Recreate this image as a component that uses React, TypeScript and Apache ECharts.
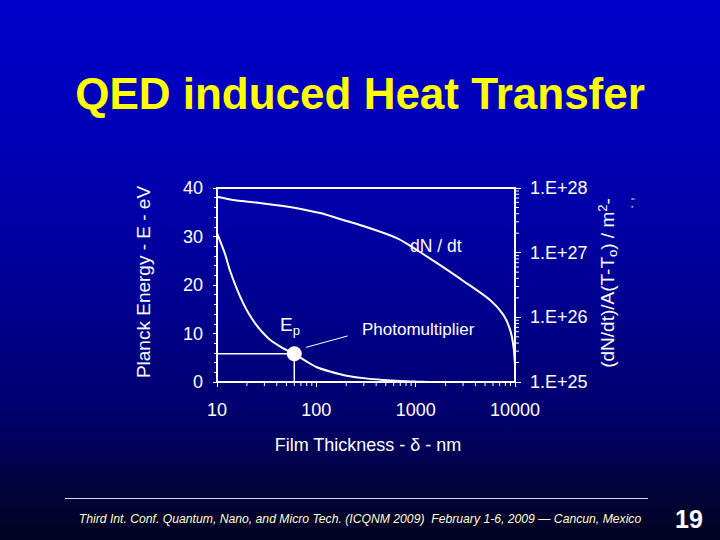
import React, { useEffect, useRef } from 'react';
import * as echarts from 'echarts';

const titleText = 'QED induced Heat Transfer';
const footerText = 'Third Int. Conf. Quantum, Nano, and Micro Tech. (ICQNM 2009)  February 1-6, 2009 \u2014 Cancun, Mexico';
const pageNumber = '19';

const xMinorTicks = [20, 30, 40, 50, 60, 70, 80, 90, 200, 300, 400, 500, 600, 700, 800, 900, 2000, 3000, 4000, 5000, 6000, 7000, 8000, 9000];
const rightMinorTicks = [2e25, 3e25, 4e25, 5e25, 6e25, 7e25, 8e25, 9e25, 2e26, 3e26, 4e26, 5e26, 6e26, 7e26, 8e26, 9e26, 2e27, 3e27, 4e27, 5e27, 6e27, 7e27, 8e27, 9e27];

// Planck energy Ep (eV) vs film thickness (nm)
const epThickness = [10, 12, 13.5, 16, 18.4, 21, 24.2, 28, 34.2, 45, 60, 80, 100, 140, 190, 300, 470, 700, 1000, 1400];
const epEnergy = [30.7, 26.5, 23, 19, 16.2, 14, 12.1, 10.5, 8.7, 7.1, 5.8, 4.2, 3.1, 2.1, 1.4, 0.8, 0.42, 0.2, 0.08, 0];

// dN/dt per area per K vs film thickness (nm)
const dndtThickness = [10, 15.8, 25, 50, 109, 173, 297, 646, 1026, 1762, 3020, 5610, 7640, 8930, 9640, 10000];
const dndtValue = [7.33e27, 6.41e27, 5.97e27, 5.18e27, 4.1e27, 3.31e27, 2.58e27, 1.68e27, 1.1e27, 6.4e26, 3.65e26, 1.85e26, 1.09e26, 6.4e25, 3.6e25, 1.83e25];

const epPoint = [60, 5.8];
const dropLineX = [10, 60, 60];
const dropLineY = [5.8, 5.8, 0];
const pointerX = [79, 207];
const pointerY = [7.15, 9.5];

const FONT = '"Liberation Sans", Arial, sans-serif';

export default function App() {
  const ref = useRef<HTMLDivElement>(null);

  useEffect(() => {
    if (!ref.current) return;
    const chart = echarts.init(ref.current, null, { renderer: 'svg' });

    const tickRender = (dir: 'down' | 'right') => (params: any, api: any) => {
      const p = api.coord([api.value(0), api.value(1)]);
      const shape = dir === 'down'
        ? { x1: p[0], y1: p[1], x2: p[0], y2: p[1] + 4 }
        : { x1: p[0], y1: p[1], x2: p[0] + 4, y2: p[1] };
      return { type: 'line', shape, style: { stroke: '#ffffff', lineWidth: 1 } };
    };

    const labelStyle = { color: '#ffffff', fontSize: 18, fontFamily: FONT };

    chart.setOption({
      animation: false,
      backgroundColor: {
        type: 'linear', x: 0, y: 0, x2: 0, y2: 1,
        colorStops: [
          { offset: 0, color: '#0000cc' },
          { offset: 0.3, color: '#0000b2' },
          { offset: 0.55, color: '#000092' },
          { offset: 0.78, color: '#00006a' },
          { offset: 0.9, color: '#03033e' },
          { offset: 1, color: '#020222' },
        ],
      },
      grid: {
        left: 217, right: 205, top: 188, bottom: 158,
        show: true, borderColor: '#ffffff', borderWidth: 2, backgroundColor: 'transparent',
      },
      xAxis: {
        type: 'log', logBase: 10, min: 10, max: 10000,
        axisLine: { show: true, lineStyle: { color: '#ffffff', width: 2 } },
        axisTick: { show: true, length: 5, lineStyle: { color: '#ffffff' } },
        splitLine: { show: false },
        axisLabel: { ...labelStyle, margin: 19, formatter: (v: number) => String(Math.round(v)) },
      },
      yAxis: [
        {
          type: 'value', min: 0, max: 40, interval: 10,
          axisLine: { show: true, lineStyle: { color: '#ffffff', width: 2 } },
          axisTick: { show: true, length: 4, lineStyle: { color: '#ffffff' } },
          minorTick: { show: true, splitNumber: 5, length: 3, lineStyle: { color: '#ffffff' } },
          splitLine: { show: false },
          axisLabel: { ...labelStyle, margin: 14 },
        },
        {
          type: 'log', logBase: 10, min: 1e25, max: 1e28, position: 'right',
          axisLine: { show: true, lineStyle: { color: '#ffffff', width: 2 } },
          axisTick: { show: true, length: 6, lineStyle: { color: '#ffffff' } },
          splitLine: { show: false },
          axisLabel: { ...labelStyle, margin: 15, formatter: (v: number) => '1.E+' + Math.round(Math.log10(v)) },
        },
      ],
      series: [
        {
          type: 'line', name: 'Ep', xAxisIndex: 0, yAxisIndex: 0,
          data: epThickness.map((x, i) => [x, epEnergy[i]]),
          smooth: 0.3, showSymbol: false, symbol: 'none',
          lineStyle: { color: '#ffffff', width: 2 },
        },
        {
          type: 'line', name: 'dN/dt', xAxisIndex: 0, yAxisIndex: 1,
          data: dndtThickness.map((x, i) => [x, dndtValue[i]]),
          smooth: 0.3, showSymbol: false, symbol: 'none',
          lineStyle: { color: '#ffffff', width: 2 },
        },
        {
          type: 'line', name: 'drop', xAxisIndex: 0, yAxisIndex: 0,
          data: dropLineX.map((x, i) => [x, dropLineY[i]]),
          showSymbol: false, symbol: 'none',
          lineStyle: { color: '#ffffff', width: 1.5 },
        },
        {
          type: 'line', name: 'pointer', xAxisIndex: 0, yAxisIndex: 0,
          data: pointerX.map((x, i) => [x, pointerY[i]]),
          showSymbol: false, symbol: 'none',
          lineStyle: { color: '#ffffff', width: 1 },
        },
        {
          type: 'scatter', name: 'point', xAxisIndex: 0, yAxisIndex: 0,
          data: [epPoint], symbolSize: 15,
          itemStyle: { color: '#ffffff', opacity: 1 },
        },
        {
          type: 'custom', xAxisIndex: 0, yAxisIndex: 0, clip: false,
          data: xMinorTicks.map((v) => [v, 0]),
          renderItem: tickRender('down'),
        },
        {
          type: 'custom', xAxisIndex: 0, yAxisIndex: 1, clip: false,
          data: rightMinorTicks.map((v) => [10000, v]),
          renderItem: tickRender('right'),
        },
      ],
      graphic: [
        {
          type: 'text', x: 360, y: 93,
          style: { text: titleText, fill: '#ffff00', font: `bold 44px ${FONT}`, align: 'center', verticalAlign: 'middle' },
        },
        {
          type: 'text', x: 143, y: 282, rotation: Math.PI / 2,
          style: { text: 'Planck Energy - E - eV', fill: '#ffffff', font: `19px ${FONT}`, align: 'center', verticalAlign: 'middle' },
        },
        {
          type: 'text', x: 607, y: 283, rotation: Math.PI / 2,
          style: {
            text: '{n|(dN/dt)/A(T-T}{s|o}{n|) / m}{p|2}{n|-}',
            fill: '#ffffff', align: 'center', verticalAlign: 'middle',
            rich: {
              n: { fontSize: 19, fontFamily: FONT, fill: '#ffffff' },
              s: { fontSize: 13, fontFamily: FONT, fill: '#ffffff', padding: [10, 0, 0, 0] },
              p: { fontSize: 13, fontFamily: FONT, fill: '#ffffff', padding: [0, 0, 10, 0] },
            },
          },
        },
        {
          type: 'text', x: 628, y: 203, rotation: Math.PI / 2,
          style: { text: '. ,', fill: '#dddddd', font: `14px ${FONT}`, align: 'center', verticalAlign: 'middle' },
        },
        {
          type: 'text', x: 368, y: 445,
          style: { text: 'Film Thickness - \u03b4 - nm', fill: '#ffffff', font: `18px ${FONT}`, align: 'center', verticalAlign: 'middle' },
        },
        {
          type: 'text', x: 280, y: 324,
          style: {
            text: '{e|E}{s|p}', fill: '#ffffff', align: 'left', verticalAlign: 'middle',
            rich: {
              e: { fontSize: 19, fontFamily: FONT, fill: '#ffffff' },
              s: { fontSize: 13, fontFamily: FONT, fill: '#ffffff', padding: [12, 0, 0, 0] },
            },
          },
        },
        {
          type: 'text', x: 362, y: 329,
          style: { text: 'Photomultiplier', fill: '#ffffff', font: `17px ${FONT}`, align: 'left', verticalAlign: 'middle' },
        },
        {
          type: 'text', x: 410, y: 246,
          style: { text: 'dN / dt', fill: '#ffffff', font: `17.5px ${FONT}`, align: 'left', verticalAlign: 'middle' },
        },
        {
          type: 'line', shape: { x1: 65, y1: 498.5, x2: 648, y2: 498.5 },
          style: { stroke: '#d8d8e8', lineWidth: 1 },
        },
        {
          type: 'text', x: 360, y: 519,
          style: { text: footerText, fill: '#ffffc8', font: `italic 12.2px ${FONT}`, align: 'center', verticalAlign: 'middle' },
        },
        {
          type: 'text', x: 689, y: 519,
          style: { text: pageNumber, fill: '#ffffff', font: `bold 25px ${FONT}`, align: 'center', verticalAlign: 'middle' },
        },
      ],
    });

    return () => chart.dispose();
  }, []);

  return <div ref={ref} style={{ position: 'absolute', left: 0, top: 0, width: 720, height: 540 }} />;
}
